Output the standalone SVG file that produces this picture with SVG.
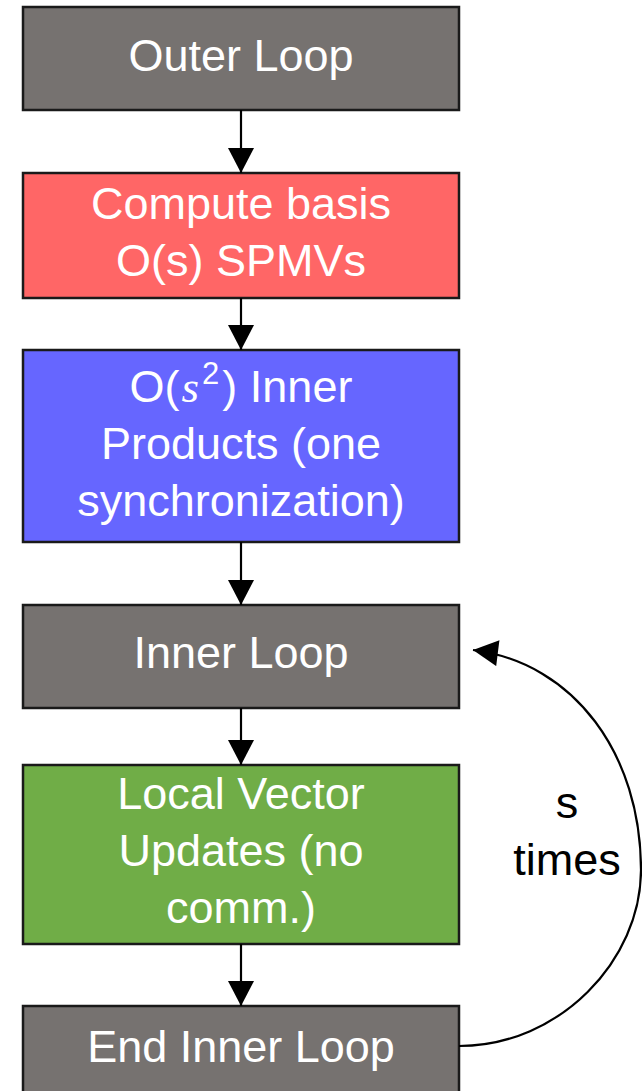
<svg xmlns="http://www.w3.org/2000/svg" width="642" height="1091" viewBox="0 0 642 1091">
<style>
.box{stroke:#1a1a1a;stroke-width:2.5}
.gray{fill:#767270}
.red{fill:#FF6666}
.blue{fill:#6666FF}
.green{fill:#70AD47}
.t{font-family:"Liberation Sans",Arial,sans-serif;font-size:45px;fill:#ffffff;text-anchor:middle}
.lbl{font-family:"Liberation Sans",Arial,sans-serif;font-size:45px;fill:#000000;text-anchor:middle}
.edge{stroke:#000;stroke-width:2.2;fill:none;marker-end:url(#ah)}
</style>
<defs>
<marker id="ah" markerUnits="userSpaceOnUse" markerWidth="26" markerHeight="26" viewBox="0 0 25 26" refX="25" refY="13" orient="auto">
<path d="M0,0 L25,13 L0,26 z" fill="#000"/>
</marker>
</defs>
<g id="n1"><rect class="box gray" x="23" y="7" width="436" height="103"/><text class="t" x="241" y="71">Outer Loop</text></g>
<g id="n2"><rect class="box red" x="23" y="173" width="436" height="125"/><text class="t" x="241" y="219">Compute basis</text><text class="t" x="241" y="276">O(s) SPMVs</text></g>
<g id="n3"><rect class="box blue" x="23" y="350" width="436" height="192"/><text class="t" x="241" y="402">O(<tspan font-family="Liberation Serif" font-style="italic" dx="2">s</tspan><tspan font-size="31" dx="3" dy="-18">2</tspan><tspan dx="3" dy="18">) Inner</tspan></text><text class="t" x="241" y="459">Products (one</text><text class="t" x="241" y="516">synchronization)</text></g>
<g id="n4"><rect class="box gray" x="23" y="605" width="436" height="103"/><text class="t" x="241" y="668">Inner Loop</text></g>
<g id="n5"><rect class="box green" x="23" y="765" width="436" height="179"/><text class="t" x="241" y="809">Local Vector</text><text class="t" x="241" y="866">Updates (no</text><text class="t" x="241" y="923">comm.)</text></g>
<g id="n6"><rect class="box gray" x="23" y="1006" width="436" height="100"/><text class="t" x="241" y="1062">End Inner Loop</text></g>
<g id="edges">
<line class="edge" x1="241" y1="110" x2="241" y2="173"/>
<line class="edge" x1="241" y1="298" x2="241" y2="350"/>
<line class="edge" x1="241" y1="542" x2="241" y2="605"/>
<line class="edge" x1="241" y1="708" x2="241" y2="765"/>
<line class="edge" x1="241" y1="944" x2="241" y2="1006"/>
<path class="edge" d="M459,1046 C560,1046 641,960 641,870 C641,755 575,663 473,650"/>
</g>
<g id="label"><text class="lbl" x="567" y="818">s</text><text class="lbl" x="567" y="875">times</text></g>
</svg>
